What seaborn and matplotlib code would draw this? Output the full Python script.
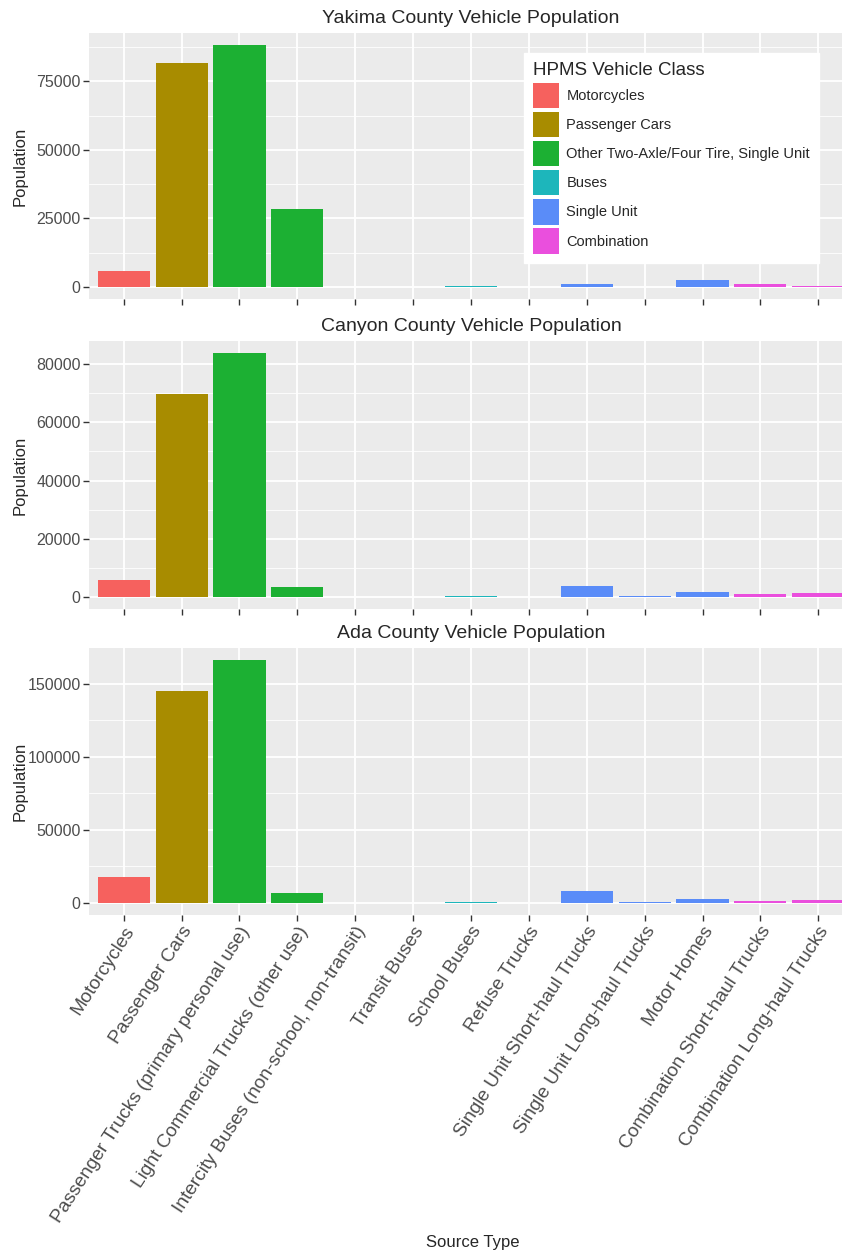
import matplotlib
matplotlib.use("Agg")
import matplotlib.pyplot as plt
from matplotlib.patches import Patch
from matplotlib.ticker import MultipleLocator
import pandas as pd
import seaborn as sns

# Source types (x axis) and the HPMS class each one falls under
sources = ["Motorcycles", "Passenger Cars", "Passenger Trucks (primary personal use)",
           "Light Commercial Trucks (other use)", "Intercity Buses (non-school, non-transit)",
           "Transit Buses", "School Buses", "Refuse Trucks", "Single Unit Short-haul Trucks",
           "Single Unit Long-haul Trucks", "Motor Homes", "Combination Short-haul Trucks",
           "Combination Long-haul Trucks"]
hpms = ["Motorcycles", "Passenger Cars", "Other Two-Axle/Four Tire, Single Unit",
        "Other Two-Axle/Four Tire, Single Unit", "Buses", "Buses", "Buses",
        "Single Unit", "Single Unit", "Single Unit", "Single Unit",
        "Combination", "Combination"]
hpms_order = ["Motorcycles", "Passenger Cars", "Other Two-Axle/Four Tire, Single Unit",
              "Buses", "Single Unit", "Combination"]

# Population values
yakima = [5700, 81800, 88200, 28500, 40, 60, 400, 50, 1200, 120, 2500, 900, 450]
canyon = [5800, 69700, 83800, 3400, 30, 40, 400, 50, 3700, 400, 1600, 800, 1300]
ada = [17400, 144600, 166000, 6700, 60, 100, 700, 100, 7800, 800, 2900, 1200, 2200]

counties = ["Yakima", "Canyon", "Ada"]
tick_steps = [25000, 20000, 50000]

colors = ["#F6615E", "#A88C00", "#1CB033", "#1DB6BB", "#5A8CF8", "#EA4FDD"]
palette = dict(zip(hpms_order, colors))

sns.set_style("darkgrid")
plt.rcParams["font.family"] = ["Liberation Sans", "DejaVu Sans"]

fig = plt.figure(figsize=(8.42, 12.52), dpi=100)
W, H = 842, 1252
# axes boxes in pixels: (top, bottom)
boxes = [(33, 299), (341, 609), (648, 915)]
left, right = 89, 853

for i, (name, vals) in enumerate(zip(counties, [yakima, canyon, ada])):
    top, bot = boxes[i]
    ax = fig.add_axes([left / W, 1 - bot / H, (right - left) / W, (bot - top) / H])
    df = pd.DataFrame({"source": sources, "pop": vals, "hpms": hpms})
    sns.barplot(data=df, x="source", y="pop", hue="hpms", hue_order=hpms_order,
                palette=palette, dodge=False, width=0.9, order=sources,
                saturation=1, legend=False, ax=ax, zorder=3, linewidth=0)
    ax.set_facecolor("#EBEBEB")
    for s in ax.spines.values():
        s.set_visible(False)
    m = max(vals)
    ax.set_ylim(-0.05 * m, 1.05 * m)
    ax.set_xlim(-0.6, 12.6)
    step = tick_steps[i]
    ax.yaxis.set_major_locator(MultipleLocator(step))
    ax.yaxis.set_minor_locator(MultipleLocator(step / 2))
    ax.grid(which="major", color="white", linewidth=1.3, zorder=0)
    ax.grid(which="minor", axis="y", color="white", linewidth=0.6, zorder=0)
    ax.set_axisbelow(True)
    ax.tick_params(axis="both", which="major", bottom=True, left=True, length=4,
                   width=1, color="#333333", labelcolor="#4D4D4D", pad=2)
    ax.tick_params(axis="y", which="minor", length=0)
    ax.tick_params(axis="y", labelsize=11.5)
    ax.set_title(f"{name} County Vehicle Population", fontsize=14, pad=7)
    ax.set_ylabel("Population", fontsize=12)
    ax.yaxis.set_label_coords((28 - left) / (right - left), 0.5)
    ax.set_xlabel("")
    if i < 2:
        ax.set_xticklabels([])
    else:
        ax.set_xticks(range(len(sources)))
        ax.set_xticklabels(sources, rotation=57, ha="right", va="top",
                           rotation_mode="anchor", fontsize=13.8)
    if i == 0:
        handles = [Patch(facecolor=palette[c], edgecolor="none") for c in hpms_order]
        leg = ax.legend(handles, hpms_order, title="HPMS Vehicle Class",
                        loc="upper left", bbox_to_anchor=(524 / W, 1 - 53 / H),
                        bbox_transform=fig.transFigure, fontsize=10.5,
                        title_fontsize=13.5, handlelength=1.8, handleheight=2.3,
                        labelspacing=0.26, handletextpad=0.5, borderpad=0.6,
                        borderaxespad=0, frameon=True, fancybox=False,
                        facecolor="white", edgecolor="white", framealpha=1)
        leg._legend_box.align = "left"

fig.text(473 / W, 1 - 1242 / H, "Source Type", ha="center", va="center", fontsize=12)

fig.savefig("out.png", dpi=100, facecolor="white")
